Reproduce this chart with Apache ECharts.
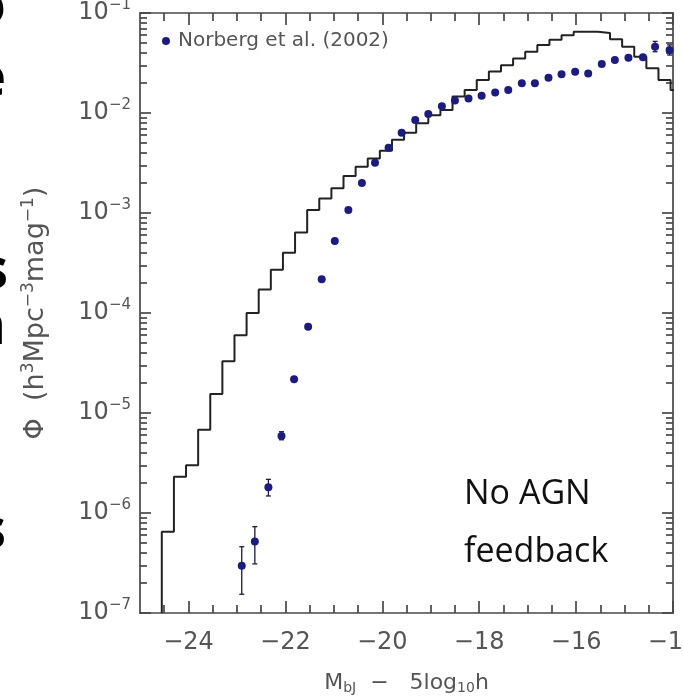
<!DOCTYPE html>
<html><head><meta charset="utf-8">
<script src="https://cdn.jsdelivr.net/npm/echarts@6/dist/echarts.min.js"></script>
<style>html,body{margin:0;padding:0;background:#fff}#c{width:683px;height:698px}</style>
</head><body><div id="c"></div>
<script>
const histEdges = [-24.55,-24.30,-24.05,-23.80,-23.55,-23.30,-23.05,-22.80,-22.55,-22.30,-22.05,-21.80,-21.55,-21.30,-21.05,-20.80,-20.55,-20.30,-20.05,-19.80,-19.55,-19.30,-19.05,-18.80,-18.55,-18.30,-18.05,-17.80,-17.55,-17.30,-17.05,-16.80,-16.55,-16.30,-16.05,-15.80,-15.55,-15.30,-15.05,-14.80,-14.55,-14.30,-14.05];
const histPhi = [6.5e-7,2.3e-6,3.0e-6,6.8e-6,1.55e-5,3.3e-5,6.0e-5,1.0e-4,1.72e-4,2.7e-4,4.0e-4,6.4e-4,1.07e-3,1.4e-3,1.77e-3,2.34e-3,2.9e-3,3.5e-3,4.2e-3,5.4e-3,6.35e-3,7.9e-3,9.5e-3,1.07e-2,1.46e-2,1.7e-2,2.14e-2,2.6e-2,3.0e-2,3.5e-2,4.1e-2,4.8e-2,5.4e-2,6.0e-2,6.5e-2,6.5e-2,6.3e-2,5.45e-2,4.6e-2,3.66e-2,2.8e-2,2.14e-2,1.7e-2];
const histEnd = -13.80;
const histFloor = 1e-7;

const normM = [-22.90,-22.63,-22.35,-22.08,-21.82,-21.53,-21.25,-20.98,-20.70,-20.42,-20.15,-19.87,-19.60,-19.32,-19.05,-18.77,-18.50,-18.22,-17.95,-17.67,-17.40,-17.12,-16.85,-16.57,-16.30,-16.02,-15.75,-15.47,-15.20,-14.92,-14.62,-14.37,-14.07];
const normPhi = [2.97e-7,5.2e-7,1.81e-6,5.9e-6,2.17e-5,7.3e-5,2.17e-4,5.25e-4,1.07e-3,2.0e-3,3.18e-3,4.5e-3,6.35e-3,8.5e-3,9.77e-3,1.17e-2,1.33e-2,1.40e-2,1.49e-2,1.60e-2,1.70e-2,1.98e-2,1.98e-2,2.25e-2,2.44e-2,2.59e-2,2.49e-2,3.09e-2,3.39e-2,3.57e-2,3.6e-2,4.6e-2,4.27e-2];
const errM  = [-22.90,-22.63,-22.35,-22.08,-14.37,-14.07];
const errLo = [1.54e-7,3.1e-7,1.48e-6,5.4e-6,4.1e-2,3.8e-2];
const errHi = [4.6e-7,7.3e-7,2.17e-6,6.5e-6,5.2e-2,4.8e-2];

const xMajorTicks = [-24,-22,-20,-18,-16,-14];
const xMinorTicks = [-24.5,-23.5,-23,-22.5,-21.5,-21,-20.5,-19.5,-19,-18.5,-17.5,-17,-16.5,-15.5,-15,-14.5];
const yMajorTicks = [1e-7,1e-6,1e-5,1e-4,1e-3,1e-2,1e-1];
const yMinorMult = [2,3,4,5,6,7,8,9];

const yMinorTicks = [];
yMajorTicks.slice(0,-1).forEach(d => yMinorMult.forEach(k => yMinorTicks.push(k*d)));

const gray = '#555';
const frame = '#474747';
const FF = '"DejaVu Sans", sans-serif';

function xAx(pos, ticks, len, showLine, withLabels) {
  const a = {
    type:'value', min:-25, max:-14, position:pos, gridIndex:0,
    axisLine:{show:showLine, onZero:false, lineStyle:{color:frame, width:1.7}},
    axisTick:{show:true, inside:true, length:len, customValues:ticks, lineStyle:{color:frame, width:1.7}},
    axisLabel:{show:false},
    splitLine:{show:false}
  };
  if (withLabels) {
    a.axisLabel = {show:true, customValues:xMajorTicks, margin:18, fontSize:24, fontFamily:FF, color:gray,
      formatter: v => (v < 0 ? '\u2212' + (-v) : String(v))};
    a.name = '{b|M}{s|bJ}{b|  \u2212   5log}{s|10}{b|h}';
    a.nameLocation = 'middle';
    a.nameGap = 58;
    a.nameTextStyle = {rich:{
      b:{fontSize:22, lineHeight:24, fontFamily:FF, color:gray},
      s:{fontSize:14, lineHeight:14, fontFamily:FF, color:gray, verticalAlign:'bottom'}
    }};
  }
  return a;
}
function yAx(pos, ticks, len, showLine, withLabels) {
  const a = {
    type:'log', logBase:10, min:1e-7, max:1e-1, position:pos, gridIndex:0,
    axisLine:{show:showLine, onZero:false, lineStyle:{color:frame, width:1.7}},
    axisTick:{show:true, inside:true, length:len, customValues:ticks, lineStyle:{color:frame, width:1.7}},
    axisLabel:{show:false},
    splitLine:{show:false}, minorTick:{show:false}
  };
  if (withLabels) {
    a.axisLabel = {show:true, customValues:yMajorTicks, margin:9,
      formatter: v => '{b|10}{s|\u2212' + (-Math.round(Math.log10(v))) + '}',
      rich:{
        b:{fontSize:24, lineHeight:30, fontFamily:FF, color:gray},
        s:{fontSize:15, lineHeight:15, fontFamily:FF, color:gray, verticalAlign:'top'}
      }};
    a.name = '{b|\u03A6  (h}{s|3}{b|Mpc}{s|\u22123}{b|mag}{s|\u22121}{b|)}';
    a.nameLocation = 'middle';
    a.nameGap = 88;
    a.nameTextStyle = {rich:{
      b:{fontSize:27, lineHeight:32, fontFamily:FF, color:gray},
      s:{fontSize:17, lineHeight:17, fontFamily:FF, color:gray, verticalAlign:'top'}
    }};
  }
  return a;
}

const histData = [[histEdges[0], histFloor]];
histEdges.forEach((e,i) => histData.push([e, histPhi[i]]));
histData.push([histEnd, histPhi[histPhi.length-1]]);

const chart = echarts.init(document.getElementById('c'), null, {renderer:'canvas'});
const slideFont = 'bold 56px "Open Sans", sans-serif';
chart.setOption({
  animation:false,
  backgroundColor:'#fff',
  grid:{left:140, right:10, top:13, bottom:85, containLabel:false, outerBoundsMode:'none'},
  legend:{
    data:['Norberg et al. (2002)'], left:162, top:31, padding:0,
    icon:'circle', itemWidth:14, itemHeight:8,
    textStyle:{fontSize:20, fontFamily:FF, color:gray}
  },
  xAxis:[
    xAx('bottom', xMajorTicks, 12, true, true),
    xAx('bottom', xMinorTicks, 8, false, false),
    xAx('top', xMajorTicks, 12, true, false),
    xAx('top', xMinorTicks, 8, false, false)
  ],
  yAxis:[
    yAx('left', yMajorTicks, 11, true, true),
    yAx('left', yMinorTicks, 7, false, false),
    yAx('right', yMajorTicks, 11, true, false),
    yAx('right', yMinorTicks, 7, false, false)
  ],
  graphic:[
    {type:'text', x:464, y:494, style:{text:'No AGN', font:'34px "Open Sans", sans-serif', fill:'#111', textVerticalAlign:'middle'}},
    {type:'text', x:464, y:552, style:{text:'feedback', font:'34px "Open Sans", sans-serif', fill:'#111', textVerticalAlign:'middle'}},
    {type:'text', x:6, y:8, style:{text:'o', font:slideFont, fill:'#000', textAlign:'right', textVerticalAlign:'middle'}},
    {type:'text', x:6, y:80, style:{text:'e', font:slideFont, fill:'#000', textAlign:'right', textVerticalAlign:'middle'}},
    {type:'text', x:8, y:272, style:{text:'s', font:slideFont, fill:'#000', textAlign:'right', textVerticalAlign:'middle'}},
    {type:'text', x:6, y:328, style:{text:'n', font:slideFont, fill:'#000', textAlign:'right', textVerticalAlign:'middle'}},
    {type:'text', x:6, y:532, style:{text:'s', font:slideFont, fill:'#000', textAlign:'right', textVerticalAlign:'middle'}}
  ],
  series:[
    {
      type:'line', name:'model', step:'end', data:histData, xAxisIndex:0, yAxisIndex:0,
      showSymbol:false, symbol:'none', clip:true, silent:true,
      lineStyle:{color:'#222', width:2}, z:2
    },
    {
      type:'custom', name:'errors', xAxisIndex:0, yAxisIndex:0, silent:true, z:3,
      data: errM.map((m,i) => [m, errLo[i], errHi[i]]),
      encode:{x:0, y:[1,2]},
      renderItem:(params, api) => {
        const lo = api.coord([api.value(0), api.value(1)]);
        const hi = api.coord([api.value(0), api.value(2)]);
        const w = 2.5;
        const st = {stroke:'#1a1a3a', lineWidth:1.3};
        return {type:'group', children:[
          {type:'line', shape:{x1:lo[0], y1:lo[1], x2:hi[0], y2:hi[1]}, style:st},
          {type:'line', shape:{x1:lo[0]-w, y1:lo[1], x2:lo[0]+w, y2:lo[1]}, style:st},
          {type:'line', shape:{x1:hi[0]-w, y1:hi[1], x2:hi[0]+w, y2:hi[1]}, style:st}
        ]};
      }
    },
    {
      type:'scatter', name:'Norberg et al. (2002)', xAxisIndex:0, yAxisIndex:0, z:4,
      data: normM.map((m,i) => [m, normPhi[i]]),
      symbol:'circle', symbolSize:8, itemStyle:{color:'#1c1c80', opacity:1}
    }
  ]
});
</script>
</body></html>
